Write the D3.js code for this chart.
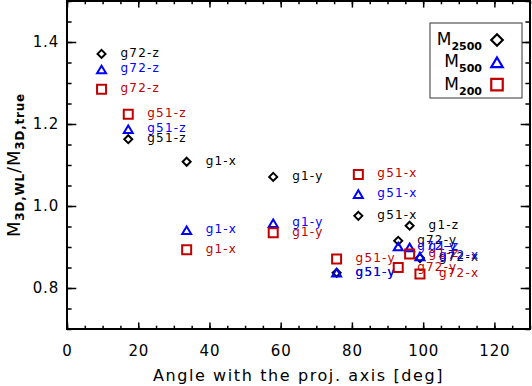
<!DOCTYPE html>
<html><head><meta charset="utf-8">
<script src="https://cdn.jsdelivr.net/npm/d3@7"></script>
<style>body{margin:0;background:#fff} svg{display:block}</style>
</head><body><svg id="c" width="532" height="386"></svg>
<script>
// ---- data ----
const labels  = ["g1-x","g1-y","g1-z","g51-x","g51-y","g51-z","g72-x","g72-y","g72-z"];
const angles  = [33.6, 57.9, 96.2, 81.8, 75.7, 17.2, 99.1, 93.0, 9.7];
const m2500   = [1.108, 1.071, 0.952, 0.976, 0.837, 1.163, 0.873, 0.915, 1.371];
const m500    = [0.941, 0.958, 0.899, 1.029, 0.837, 1.187, 0.877, 0.901, 1.333];
const m200    = [0.893, 0.935, 0.883, 1.077, 0.871, 1.224, 0.834, 0.850, 1.285];
const seriesNames  = ["2500", "500", "200"];
const seriesColors = ["#000000", "#0000ff", "#c00000"];
const seriesShapes = ["diamond", "triangle", "square"];
const xTicks = [0, 20, 40, 60, 80, 100, 120];
const yTicks = [0.8, 1.0, 1.2, 1.4];
const xTitle = "Angle with the proj. axis [deg]";

// ---- layout ----
const svg = d3.select("#c");
const L = 67, R = 530, T = 1, B = 329;
const x = d3.scaleLinear().domain([0, 130]).range([L, R]);
const y = d3.scaleLinear().domain([0.7, 1.5]).range([B, T]);
const font = "'DejaVu Sans', sans-serif";

function shapePath(shape, s) {
  const h = s / 2;
  if (shape === "diamond") return `M0,${-h}L${h},0L0,${h}L${-h},0Z`;
  if (shape === "square") return `M${-h},${-h}H${h}V${h}H${-h}Z`;
  const hh = s * 0.42;
  return `M0,${-hh}L${h},${hh}L${-h},${hh}Z`;
}

// axes (ticks inward, all four sides)
const xMinor = d3.range(0, 131, 5), yMinor = d3.range(0.7, 1.5001, 0.05);
function styleAxis(g) {
  g.select(".domain").remove();
  g.selectAll("line").attr("stroke", "#000").attr("stroke-width", 1.5);
  g.selectAll("text").attr("font-family", font).attr("font-size", 15)
   .attr("letter-spacing", 0.8).attr("fill", "#000");
}
svg.append("g").attr("transform", `translate(0,${B})`)
  .call(d3.axisBottom(x).tickValues(xMinor).tickSize(-3.3).tickFormat("")).call(styleAxis);
svg.append("g").attr("transform", `translate(0,${B})`)
  .call(d3.axisBottom(x).tickValues(xTicks).tickSize(-6.6).tickPadding(16).tickFormat(d3.format("d"))).call(styleAxis);
svg.append("g").attr("transform", `translate(0,${T})`)
  .call(d3.axisTop(x).tickValues(xMinor).tickSize(-3.3).tickFormat("")).call(styleAxis);
svg.append("g").attr("transform", `translate(0,${T})`)
  .call(d3.axisTop(x).tickValues(xTicks).tickSize(-6.6).tickFormat("")).call(styleAxis);
svg.append("g").attr("transform", `translate(${L},0)`)
  .call(d3.axisLeft(y).tickValues(yMinor).tickSize(-4.6).tickFormat("")).call(styleAxis);
svg.append("g").attr("transform", `translate(${L},0)`)
  .call(d3.axisLeft(y).tickValues(yTicks).tickSize(-9.3).tickPadding(8).tickFormat(d3.format(".1f"))).call(styleAxis);
svg.append("g").attr("transform", `translate(${R},0)`)
  .call(d3.axisRight(y).tickValues(yMinor).tickSize(-4.6).tickFormat("")).call(styleAxis);
svg.append("g").attr("transform", `translate(${R},0)`)
  .call(d3.axisRight(y).tickValues(yTicks).tickSize(-9.3).tickFormat("")).call(styleAxis);

svg.append("rect").attr("x", L).attr("y", T).attr("width", R - L).attr("height", B - T)
  .attr("fill", "none").attr("stroke", "#000").attr("stroke-width", 2);

// x title
svg.append("text").attr("x", (L + R) / 2).attr("y", 381).attr("text-anchor", "middle")
  .attr("font-family", font).attr("font-size", 16).attr("letter-spacing", 1.6)
  .text(xTitle);

// y title
const yt = svg.append("text").attr("transform", `translate(20,${(T + B) / 2}) rotate(-90)`)
  .attr("text-anchor", "middle").attr("font-family", font).attr("font-size", 18)
  .attr("letter-spacing", 0.8);
yt.append("tspan").text("M");
yt.append("tspan").attr("dy", 4).attr("font-size", 12).attr("font-weight", "bold").text("3D,WL");
yt.append("tspan").attr("dy", -4).text("/");
yt.append("tspan").text("M");
yt.append("tspan").attr("dy", 4).attr("font-size", 12).attr("font-weight", "bold").text("3D,true");

// data points + labels
const series = [m2500, m500, m200];
series.forEach((vals, si) => {
  const g = svg.append("g");
  const data = labels.map((lab, i) => ({ lab, a: angles[i], v: vals[i] }));
  g.selectAll("path").data(data).join("path")
    .attr("transform", d => `translate(${x(d.a)},${y(d.v)})`)
    .attr("d", shapePath(seriesShapes[si], seriesShapes[si] === "diamond" ? 8 : 9))
    .attr("fill", "none").attr("stroke", seriesColors[si]).attr("stroke-width", 2);
  g.selectAll("text").data(data).join("text")
    .attr("x", d => x(d.a) + 19).attr("y", d => y(d.v) + 3)
    .attr("font-family", font).attr("font-size", 12).attr("letter-spacing", 1.2)
    .attr("fill", seriesColors[si]).text(d => d.lab);
});

// legend
const lg = svg.append("g");
lg.append("rect").attr("x", 430).attr("y", 23).attr("width", 92).attr("height", 75)
  .attr("fill", "#fff").attr("stroke", "#333").attr("stroke-width", 1);
seriesNames.forEach((n, i) => {
  const yy = 45 + i * 22.3;
  const t = lg.append("text").attr("x", 482).attr("y", yy).attr("text-anchor", "end")
    .attr("font-family", font).attr("font-size", 17);
  t.append("tspan").text("M");
  t.append("tspan").attr("dy", 5).attr("font-size", 11).attr("font-weight", "bold").text(n);
  lg.append("path").attr("transform", `translate(497,${yy - 5})`)
    .attr("d", shapePath(seriesShapes[i], 11.5))
    .attr("fill", "none").attr("stroke", seriesColors[i]).attr("stroke-width", 2.2);
});
</script></body></html>
